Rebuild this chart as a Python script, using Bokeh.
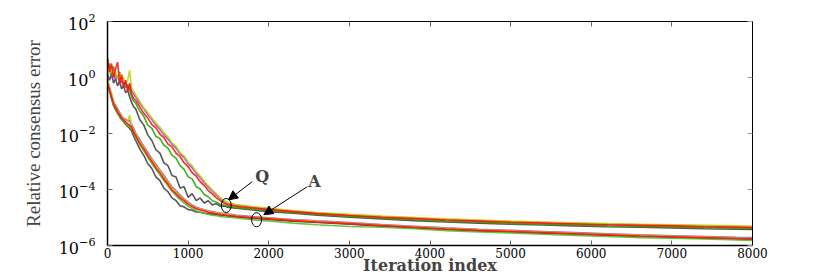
from bokeh.plotting import figure
from bokeh.models import (Range1d, LinearAxis, FixedTicker, Arrow, NormalHead,
                          Label, ColumnDataSource, CustomJSTickFormatter)
from bokeh.embed import file_html
from bokeh.resources import INLINE

# ---------------- data (log10 of relative consensus error) ----------------
iterations = [0, 25, 50, 75, 100, 125, 150, 175, 200, 225,
              250, 275, 300, 325, 350, 400, 450, 500, 550, 600,
              650, 700, 750, 800, 850, 900, 950, 1000, 1050, 1100,
              1150, 1200, 1250, 1300, 1350, 1400, 1450, 1500, 1600, 1800,
              2000, 2300, 2600, 3000, 3400, 3800, 4200, 4600, 5000, 5400,
              5800, 6200, 6600, 7000, 7400, 7800, 8000]

# group Q (upper bundle)
q_gray = [0.10, -0.10, 0.15, -0.20, -0.05, -0.30, -0.15, -0.40, -0.30, -0.55,
          -0.45, -0.70, -0.90, -1.05, -1.12, -1.50, -1.70, -2.05, -2.25, -2.58,
          -2.70, -3.05, -3.15, -3.50, -3.55, -3.95, -3.90, -4.28, -4.15, -4.40,
          -4.30, -4.48, -4.40, -4.55, -4.50, -4.60, -4.59, -4.64, -4.67, -4.73,
          -4.79, -4.85, -4.92, -4.99, -5.05, -5.11, -5.16, -5.20, -5.24, -5.27,
          -5.30, -5.33, -5.35, -5.37, -5.40, -5.42, -5.43]
q_green = [0.30, 0.50, 0.10, 0.40, 0.05, 0.00, 0.20, -0.15, -0.20, -0.35,
           -0.25, -0.45, -0.70, -0.85, -0.92, -1.20, -1.38, -1.70, -1.82, -2.10,
           -2.18, -2.42, -2.52, -2.78, -2.88, -3.15, -3.28, -3.55, -3.62, -3.90,
           -3.98, -4.18, -4.26, -4.40, -4.45, -4.53, -4.56, -4.60, -4.64, -4.70,
           -4.76, -4.82, -4.89, -4.96, -5.02, -5.08, -5.13, -5.17, -5.21, -5.24,
           -5.27, -5.30, -5.32, -5.34, -5.36, -5.38, -5.39]
q_purple = [0.20, 0.30, 0.00, 0.15, -0.10, 0.05, -0.20, -0.10, -0.30, -0.15,
            -0.40, -0.30, -0.50, -0.58, -0.70, -0.92, -1.12, -1.32, -1.50, -1.70,
            -1.85, -2.05, -2.20, -2.38, -2.52, -2.72, -2.86, -3.08, -3.22, -3.42,
            -3.58, -3.76, -3.92, -4.06, -4.20, -4.33, -4.43, -4.50, -4.56, -4.63,
            -4.69, -4.77, -4.84, -4.91, -4.97, -5.02, -5.07, -5.11, -5.15, -5.18,
            -5.21, -5.24, -5.26, -5.28, -5.30, -5.32, -5.33]
q_yellow = [0.45, 0.10, 0.35, 0.05, 0.20, -0.05, 0.15, -0.10, 0.00, -0.20,
            -0.10, 0.25, -0.40, -0.50, -0.62, -0.85, -1.08, -1.25, -1.45, -1.62,
            -1.78, -1.98, -2.12, -2.33, -2.45, -2.68, -2.80, -3.02, -3.15, -3.36,
            -3.52, -3.70, -3.86, -4.02, -4.15, -4.30, -4.40, -4.47, -4.54, -4.61,
            -4.67, -4.75, -4.82, -4.89, -4.95, -5.00, -5.05, -5.09, -5.13, -5.16,
            -5.19, -5.22, -5.24, -5.26, -5.28, -5.30, -5.31]
q_red = [0.70, 0.20, 0.50, 0.00, 0.30, 0.55, -0.20, 0.10, -0.35, -0.10,
         -0.50, -0.20, -0.60, -0.75, -0.82, -1.05, -1.28, -1.45, -1.68, -1.80,
         -2.02, -2.15, -2.38, -2.48, -2.70, -2.82, -3.05, -3.18, -3.40, -3.52,
         -3.72, -3.86, -4.04, -4.16, -4.30, -4.40, -4.49, -4.55, -4.60, -4.66,
         -4.72, -4.79, -4.86, -4.93, -4.99, -5.04, -5.09, -5.13, -5.17, -5.20,
         -5.23, -5.26, -5.28, -5.30, -5.33, -5.35, -5.36]

# group A (lower bundle)
a_gray = [-0.25, -0.50, -0.75, -1.00, -1.15, -1.28, -1.40, -1.50, -1.58, -1.68,
          -1.75, -1.82, -1.92, -2.10, -2.25, -2.55, -2.78, -3.08, -3.25, -3.55,
          -3.68, -3.95, -4.08, -4.30, -4.40, -4.58, -4.62, -4.72, -4.74, -4.80,
          -4.81, -4.84, -4.86, -4.88, -4.90, -4.92, -4.93, -4.95, -4.98, -5.03,
          -5.07, -5.13, -5.18, -5.24, -5.31, -5.37, -5.43, -5.48, -5.52, -5.56,
          -5.60, -5.64, -5.68, -5.71, -5.74, -5.77, -5.79]
a_green = [-0.15, -0.50, -0.65, -1.00, -1.10, -1.28, -1.35, -1.50, -1.55, -1.65,
           -1.70, -1.75, -1.85, -1.98, -2.15, -2.40, -2.62, -2.85, -3.08, -3.28,
           -3.48, -3.68, -3.88, -4.06, -4.22, -4.36, -4.48, -4.60, -4.68, -4.76,
           -4.81, -4.86, -4.89, -4.92, -4.94, -4.96, -4.98, -4.99, -5.02, -5.08,
           -5.12, -5.20, -5.26, -5.32, -5.35, -5.40, -5.47, -5.52, -5.55, -5.60,
           -5.64, -5.68, -5.72, -5.74, -5.77, -5.80, -5.82]
a_purple = [-0.10, -0.35, -0.60, -0.85, -1.00, -1.12, -1.25, -1.38, -1.45, -1.50,
            -1.55, -1.55, -1.68, -1.82, -1.98, -2.22, -2.45, -2.68, -2.90, -3.10,
            -3.30, -3.50, -3.70, -3.90, -4.05, -4.20, -4.33, -4.45, -4.55, -4.63,
            -4.68, -4.72, -4.76, -4.79, -4.82, -4.84, -4.86, -4.88, -4.92, -4.97,
            -5.01, -5.07, -5.12, -5.18, -5.25, -5.31, -5.37, -5.42, -5.46, -5.50,
            -5.54, -5.58, -5.62, -5.65, -5.68, -5.71, -5.72]
a_yellow = [0.00, -0.40, -0.55, -0.90, -1.02, -1.18, -1.28, -1.40, -1.48, -1.55,
            -1.58, -1.35, -1.72, -1.88, -2.00, -2.28, -2.48, -2.75, -2.93, -3.16,
            -3.33, -3.56, -3.73, -3.95, -4.08, -4.25, -4.36, -4.49, -4.58, -4.66,
            -4.70, -4.74, -4.78, -4.81, -4.84, -4.86, -4.88, -4.90, -4.94, -4.99,
            -5.03, -5.09, -5.14, -5.20, -5.27, -5.33, -5.39, -5.44, -5.48, -5.52,
            -5.56, -5.60, -5.64, -5.67, -5.70, -5.73, -5.74]
a_red = [-0.20, -0.45, -0.70, -0.95, -1.08, -1.22, -1.32, -1.45, -1.52, -1.60,
         -1.65, -1.70, -1.78, -1.95, -2.08, -2.35, -2.55, -2.80, -3.00, -3.23,
         -3.40, -3.63, -3.80, -4.02, -4.15, -4.30, -4.40, -4.53, -4.61, -4.69,
         -4.73, -4.77, -4.81, -4.84, -4.87, -4.89, -4.91, -4.93, -4.96, -5.01,
         -5.05, -5.11, -5.16, -5.22, -5.29, -5.35, -5.41, -5.46, -5.50, -5.54,
         -5.58, -5.62, -5.66, -5.69, -5.72, -5.75, -5.76]

x_ticks = [0, 1000, 2000, 3000, 4000, 5000, 6000, 7000, 8000]
y_ticks = [1e-6, 1e-4, 1e-2, 1e0, 1e2]

# ---------------- figure ----------------
p = figure(width=830, height=277, x_range=Range1d(0, 8000),
           y_range=Range1d(1e-6, 1e2), y_axis_type="log",
           output_backend="svg", toolbar_location=None,
           min_border_left=107, min_border_right=78,
           min_border_top=21, min_border_bottom=31)
p.grid.visible = False
p.outline_line_color = "black"
p.outline_line_width = 1
p.background_fill_color = "white"
p.border_fill_color = "white"

TICK_FONT = "DejaVu Serif"

xa = p.below[0]
xa.ticker = FixedTicker(ticks=x_ticks)
ya = p.left[0]
ya.ticker = FixedTicker(ticks=y_ticks)
for ax in (xa, ya):
    ax.major_tick_in = 5
    ax.major_tick_out = 0
    ax.minor_tick_in = 0
    ax.minor_tick_out = 0
    ax.major_tick_line_color = "#666666"
    ax.axis_line_color = "black"
    ax.axis_line_width = 1.5
    ax.major_label_text_font = TICK_FONT
    ax.major_label_text_color = "black"
xa.major_label_text_font_size = "12px"
ya.major_label_text_font_size = "16px"
xa.major_label_standoff = 2
ya.major_label_standoff = 12
ya.axis_label = "Relative consensus error"
ya.axis_label_text_font = "Liberation Serif"
ya.axis_label_text_font_style = "normal"
ya.axis_label_text_font_size = "19px"
ya.axis_label_standoff = 12
xa.axis_label = "Iteration index"
xa.axis_label_text_font = "DejaVu Serif"
xa.axis_label_text_font_style = "bold"
xa.axis_label_text_font_size = "16px"
xa.axis_label_standoff = -5

blank = CustomJSTickFormatter(code="return ''")
top = LinearAxis(ticker=FixedTicker(ticks=x_ticks), formatter=blank,
                 major_tick_in=5, major_tick_out=0, minor_tick_in=0, minor_tick_out=0,
                 major_tick_line_color="#666666", axis_line_color="black",
                 major_label_standoff=0, major_label_text_font_size="8px")
p.add_layout(top, "above")
right = LinearAxis(ticker=FixedTicker(ticks=y_ticks), formatter=blank,
                   major_tick_in=5, major_tick_out=0, minor_tick_in=0, minor_tick_out=0,
                   major_tick_line_color="#999999", axis_line_color="black",
                   major_label_standoff=0, major_label_text_font_size="8px")
p.add_layout(right, "right")

def draw(vals, color):
    src = ColumnDataSource(dict(x=iterations, y=[10 ** v for v in vals]))
    p.line("x", "y", source=src, line_color=color, line_width=1.6, line_alpha=0.9)

GRAY = "#444444"
GREEN = "#2ca800"
PURPLE = "#a040e0"
YELLOW = "#c2d200"
RED = "#ff1010"

draw(a_gray, GRAY)
draw(a_green, "#55c030")
draw(a_purple, PURPLE)
draw(a_yellow, YELLOW)
draw(a_red, RED)

draw(q_gray, GRAY)
draw(q_green, GREEN)
draw(q_purple, PURPLE)
draw(q_yellow, YELLOW)
draw(q_red, RED)

# ---------------- annotations ----------------
p.ellipse(x=[1473, 1849], y=[10 ** -4.57, 10 ** -5.08], width=10, height=14,
          width_units="screen", height_units="screen",
          fill_color=None, line_color="black", line_width=1)
p.add_layout(Arrow(end=NormalHead(size=9, fill_color="black", line_color="black"),
                   x_start=1795, y_start=10 ** -3.72, x_end=1501, y_end=10 ** -4.37,
                   line_color="black", line_width=1))
p.add_layout(Arrow(end=NormalHead(size=9, fill_color="black", line_color="black"),
                   x_start=2478, y_start=10 ** -3.90, x_end=1939, y_end=10 ** -4.90,
                   line_color="black", line_width=1))
p.add_layout(Label(x=1919, y=10 ** -3.55, text="Q", text_align="center",
                   text_baseline="middle", text_font="DejaVu Serif",
                   text_font_style="bold", text_font_size="16px"))
p.add_layout(Label(x=2568, y=10 ** -3.73, text="A", text_align="center",
                   text_baseline="middle", text_font="DejaVu Serif",
                   text_font_style="bold", text_font_size="16px"))

open("out.html", "w").write(file_html(p, INLINE))
